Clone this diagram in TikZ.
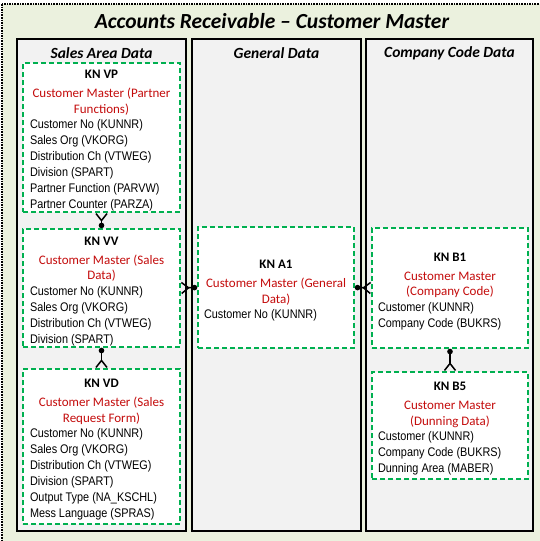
\documentclass[tikz,border=0pt]{standalone}
\usepackage{fontspec}
\setmainfont{Carlito}
\newfontfamily\attrfont[FakeStretch=0.87]{Liberation Sans}
\usetikzlibrary{arrows.meta,positioning}
\definecolor{bggreen}{RGB}{235,241,222}
\definecolor{colgray}{RGB}{242,242,242}
\definecolor{entgreen}{RGB}{0,176,80}
\definecolor{entred}{RGB}{196,12,12}

% table box text: name, description (red), fields
\newcommand{\enttext}[4]{\parbox{#1}{\vspace*{7pt}\centering
  {\fontsize{13}{16}\selectfont\bfseries #2\par}\vspace{3.5pt}
  {\fontsize{13}{15.5}\selectfont\color{entred}#3\par}\vspace{-0.5pt}
  \raggedright{\attrfont\fontsize{12.5}{16}\selectfont #4\par}}}

\begin{document}
\begin{tikzpicture}[x=1pt,y=-1pt,
    column/.style={draw=black, line width=1.6pt, fill=colgray, inner sep=0pt},
    colhead/.style={font=\fontsize{15.5}{18}\selectfont\bfseries\itshape},
    entity/.style={draw=entgreen, line width=1.6pt, dash pattern=on 5pt off 3pt,
        fill=white, inner sep=0pt},
    link/.style={line width=1.5pt,
        {Straight Barb[reversed,length=7pt,width=11pt,line width=1.5pt]}-{Circle[length=5.5pt]}}]
        \useasboundingbox (0,0) rectangle (539,541);
        \fill[bggreen] (2,4) rectangle (545,547);
        \draw[densely dotted, line width=1.6pt] (2,4) rectangle (545,547);
        \node[font=\fontsize{21.5}{25}\selectfont\bfseries\itshape] (title) at (272,21)
            {Accounts Receivable – Customer Master};

        % columns
        \node[column, minimum width=169pt, minimum height=492pt] (salescol) at (101.5,285) {};
        \node[column, minimum width=169pt, minimum height=492pt] (gencol) at (276.5,285) {};
        \node[column, minimum width=167pt, minimum height=492pt] (compcol) at (449.5,285) {};
        \node[colhead] (saleshead) at (101.5,53) {Sales Area Data};
        \node[colhead] (genhead) at (276.5,53) {General Data};
        \node[colhead] (comphead) at (449.5,53) {Company Code Data};

        % tables
        \node[entity, minimum width=157pt, minimum height=149pt] (knvp) at (101.5,137.5)
            {\enttext{143pt}{KN VP}{Customer Master (Partner\\Functions)}
            {Customer No (KUNNR)\\Sales Org (VKORG)\\Distribution Ch (VTWEG)\\Division (SPART)\\Partner Function (PARVW)\\Partner Counter (PARZA)}};
        \node[entity, minimum width=157pt, minimum height=118pt] (knvv) at (101.5,288)
            {\enttext{143pt}{KN VV}{Customer Master (Sales\\Data)}
            {Customer No (KUNNR)\\Sales Org (VKORG)\\Distribution Ch (VTWEG)\\Division (SPART)}};
        \node[entity, minimum width=157pt, minimum height=155pt] (knvd) at (101.5,446.5)
            {\enttext{143pt}{KN VD}{Customer Master (Sales\\Request Form)}
            {Customer No (KUNNR)\\Sales Org (VKORG)\\Distribution Ch (VTWEG)\\Division (SPART)\\Output Type (NA\_KSCHL)\\Mess Language (SPRAS)}};
        \node[entity, minimum width=156pt, minimum height=121pt] (kna1) at (276,287.5)
            {\enttext{144pt}{KN A1}{Customer Master (General\\Data)}
            {Customer No (KUNNR)}};
        \node[entity, minimum width=156pt, minimum height=120pt] (knb1) at (450,288)
            {\enttext{144pt}{KN B1}{Customer Master\\(Company Code)}
            {Customer (KUNNR)\\Company Code (BUKRS)}};
        \node[entity, minimum width=156pt, minimum height=107pt] (knb5) at (450,425.5)
            {\enttext{144pt}{KN B5}{Customer Master\\(Dunning Data)}
            {Customer (KUNNR)\\Company Code (BUKRS)\\Dunning Area (MABER)}};

        % relations
        \draw[link] (knvp.south) -- (knvv.north);
        \draw[link] (knvd.north) -- (knvv.south);
        \draw[link] (knvv.east) -- (kna1.west);
        \draw[link] (knb1.west) -- (kna1.east);
        \draw[link] (knb5.north) -- (knb1.south);
    \end{tikzpicture}
\end{document}
